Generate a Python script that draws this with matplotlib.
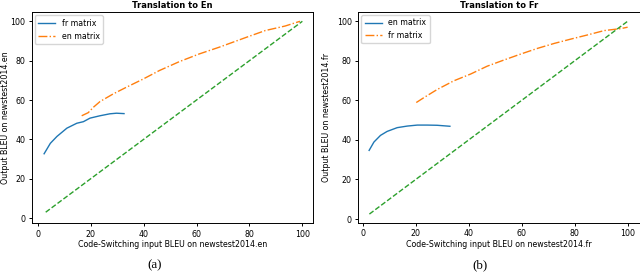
import matplotlib
matplotlib.use("Agg")
import matplotlib.pyplot as plt
from matplotlib import rcParams

# Left panel: translation to En
en_fr_x = [2.4, 4.75, 7.25, 11.0, 14.75, 17.25, 19.75, 23.5, 27.25, 29.75, 32.6]
en_fr_y = [32.7, 38.0, 41.5, 45.7, 48.2, 49.0, 50.8, 52.0, 53.0, 53.3, 53.1]
en_en_x = [16.6, 19.1, 21.0, 23.5, 28.5, 33.5, 39.75, 46.0, 53.5, 61.0, 68.5, 78.5, 86.0, 93.5, 99.1]
en_en_y = [52.0, 53.6, 56.3, 59.2, 63.1, 66.5, 70.6, 75.0, 79.5, 83.4, 86.8, 91.7, 95.3, 97.6, 100.0]
en_diag = [3.0, 100.0]

# Right panel: translation to Fr
fr_en_x = [2.4, 4.2, 6.7, 9.2, 13.0, 16.8, 20.6, 24.3, 28.1, 32.9]
fr_en_y = [34.7, 38.9, 42.3, 44.3, 46.2, 47.0, 47.5, 47.5, 47.4, 46.9]
fr_fr_x = [20.2, 23.1, 28.1, 34.4, 40.7, 47.0, 53.3, 59.6, 66.0, 72.3, 78.6, 84.9, 91.2, 97.5, 100.0]
fr_fr_y = [58.9, 61.4, 65.5, 69.9, 73.3, 77.3, 80.4, 83.4, 86.3, 88.8, 91.0, 93.1, 95.3, 96.3, 97.0]
fr_diag = [2.5, 100.0]

font_size = 5.7
line_width = 1.0

rcParams.update({
    "font.family": "DejaVu Sans",
    "font.size": font_size,
    "axes.linewidth": 0.7,
    "xtick.major.size": 2.2,
    "ytick.major.size": 2.2,
    "xtick.major.width": 0.7,
    "ytick.major.width": 0.7,
    "xtick.major.pad": 2.5,
    "ytick.major.pad": 2.5,
})


def plot_panel(ax, x1, y1, x2, y2, diag, names, title, lang, xlim, ylim, ylab_x):
    ax.plot(x1, y1, color="#1f77b4", linewidth=line_width, label=names[0])
    ax.plot(x2, y2, color="#ff7f0e", linestyle="-.", linewidth=line_width, label=names[1])
    ax.plot(diag, diag, color="#2ca02c", linestyle="--", linewidth=line_width)
    ax.set_xlim(*xlim)
    ax.set_ylim(*ylim)
    ax.set_xticks([0, 20, 40, 60, 80, 100])
    ax.set_yticks([0, 20, 40, 60, 80, 100])
    ax.set_title(title, fontsize=6, fontweight="bold", pad=3)
    ax.set_xlabel("Code-Switching input BLEU on newstest2014." + lang, labelpad=1)
    ax.set_ylabel("Output BLEU on newstest2014." + lang)
    ax.yaxis.set_label_coords(ylab_x, 0.5)
    ax.legend(loc="upper left", fontsize=font_size, handlelength=2.2,
              borderaxespad=0.4, framealpha=0.8)


fig = plt.figure(figsize=(6.4, 2.72), dpi=100)
ax1 = fig.add_axes([0.0495, 0.180, 0.4403, 0.775])
ax2 = fig.add_axes([0.5598, 0.181, 0.4403, 0.775])

plot_panel(ax1, en_fr_x, en_fr_y, en_en_x, en_en_y, en_diag,
           ["fr matrix", "en matrix"], "Translation to En", "en",
           (-2.3, 104.2), (-2.5, 104.6), -0.078)
plot_panel(ax2, fr_en_x, fr_en_y, fr_fr_x, fr_fr_y, fr_diag,
           ["en matrix", "fr matrix"], "Translation to Fr", "fr",
           (-1.7, 104.7), (-1.9, 104.7), -0.098)

fig.text(0.242, 0.012, "(a)", family="Liberation Serif", fontsize=9.3, ha="center")
fig.text(0.750, 0.012, "(b)", family="Liberation Serif", fontsize=9.3, ha="center")

plt.savefig("out.png", dpi=100)
